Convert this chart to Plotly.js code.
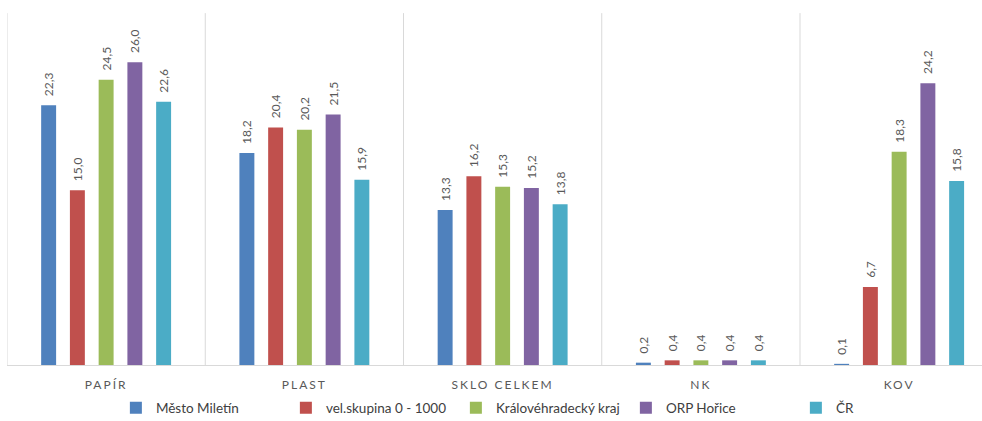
<!DOCTYPE html>
<html>
<head>
<meta charset="utf-8">
<script src="https://cdn.plot.ly/plotly-3.0.1.min.js"></script>
<style>html,body{margin:0;padding:0;background:#fff;}#chart{width:982px;height:421px;}</style>
</head>
<body>
<div id="chart"></div>
<script>
const categories = ['PAPÍR', 'PLAST', 'SKLO CELKEM', 'NK', 'KOV'];
const seriesNames = ['Město Miletín', 'vel.skupina 0 - 1000', 'Královéhradecký kraj', 'ORP Hořice', 'ČR'];
const mestoMiletin = [22.3, 18.2, 13.3, 0.2, 0.1];
const velSkupina = [15.0, 20.4, 16.2, 0.4, 6.7];
const kralovehradecky = [24.5, 20.2, 15.3, 0.4, 18.3];
const orpHorice = [26.0, 21.5, 15.2, 0.4, 24.2];
const cr = [22.6, 15.9, 13.8, 0.4, 15.8];
const colors = ['#4F81BD', '#C0504D', '#9BBB59', '#8064A2', '#4BACC6'];

const allSeries = [mestoMiletin, velSkupina, kralovehradecky, orpHorice, cr];
const fmt = v => '\u00a0\u00a0' + v.toFixed(1).replace('.', ',');

const traces = allSeries.map((vals, i) => ({
  type: 'bar',
  name: seriesNames[i],
  x: categories,
  y: vals,
  marker: {color: colors[i]},
  text: vals.map(fmt),
  textposition: 'outside',
  textangle: -90,
  constraintext: 'none',
  cliponaxis: false,
  textfont: {family: 'Lato, "Open Sans", sans-serif', size: 12, color: '#595959'},
  hoverinfo: 'skip'
}));

const tickText = categories.map(c => '<span style="letter-spacing:2px">' + c + '</span>');

const shapes = [-0.5, 0.5, 1.5, 2.5, 3.5].map(xv => ({
  type: 'line', xref: 'x', yref: 'paper',
  x0: xv, x1: xv, y0: 0, y1: 0.964,
  line: {color: '#d9d9d9', width: 1}
}));

const layout = {
  width: 982, height: 421,
  margin: {l: 7, r: 0, t: 0, b: 56},
  paper_bgcolor: '#ffffff',
  plot_bgcolor: '#ffffff',
  barmode: 'group',
  bargap: 0.275,
  bargroupgap: 0.48,
  font: {family: 'Lato, "Open Sans", sans-serif', color: '#595959'},
  xaxis: {
    type: 'category',
    range: [-0.5, 4.418],
    tickvals: categories,
    ticktext: tickText,
    showgrid: false,
    showline: true,
    linecolor: '#d9d9d9',
    linewidth: 1,
    ticks: 'outside',
    ticklen: 9,
    tickcolor: 'rgba(0,0,0,0)',
    tickfont: {size: 12, color: '#595959'},
    zeroline: false,
    fixedrange: true
  },
  yaxis: {
    visible: false,
    range: [0, 31.34],
    showgrid: false,
    zeroline: false,
    fixedrange: true
  },
  shapes: shapes,
  showlegend: true,
  legend: {
    orientation: 'h',
    xref: 'container', yref: 'container',
    x: 0.118, xanchor: 'left',
    y: 0.031, yanchor: 'middle',
    font: {size: 13.5, color: '#404040'},
    itemwidth: 30,
    entrywidth: 125,
    entrywidthmode: 'pixels',
    traceorder: 'normal'
  }
};

Plotly.newPlot('chart', traces, layout, {displayModeBar: false, staticPlot: true});
</script>
</body>
</html>
